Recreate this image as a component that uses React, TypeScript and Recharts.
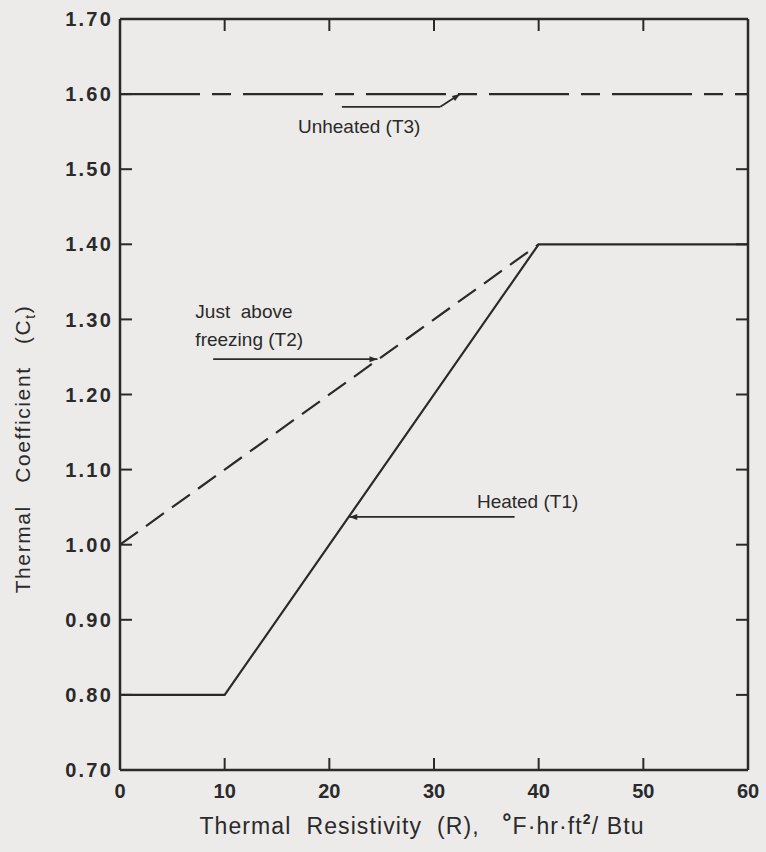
import React from 'react';
import { LineChart, Line, XAxis, YAxis, ReferenceLine, ReferenceDot } from 'recharts';

// ---- data ----
const xTicks = [0, 10, 20, 30, 40, 50, 60];
const yTicks = [0.7, 0.8, 0.9, 1.0, 1.1, 1.2, 1.3, 1.4, 1.5, 1.6, 1.7];

const heatedT1 = [
  { r: 0, c: 0.8 },
  { r: 10, c: 0.8 },
  { r: 40, c: 1.4 },
  { r: 60, c: 1.4 },
];
const aboveFreezingT2 = [
  { r: 0, c: 1.0 },
  { r: 40, c: 1.4 },
];
const unheatedT3 = [
  { r: 0, c: 1.6 },
  { r: 60, c: 1.6 },
];

// annotation leaders (data coords)
const leaders = [
  { from: { x: 21.2, y: 1.583 }, to: { x: 30.6, y: 1.583 }, arrow: false },
  { from: { x: 30.6, y: 1.583 }, to: { x: 32.5, y: 1.6 }, arrow: true },
  { from: { x: 8.9, y: 1.247 }, to: { x: 24.6, y: 1.247 }, arrow: true },
  { from: { x: 37.7, y: 1.037 }, to: { x: 21.9, y: 1.037 }, arrow: true },
];
const labels = [
  { x: 17.0, y: 1.548, text: 'Unheated (T3)' },
  { x: 7.2, y: 1.302, text: 'Just  above' },
  { x: 7.2, y: 1.265, text: 'freezing (T2)' },
  { x: 34.1, y: 1.049, text: 'Heated (T1)' },
];

const INK = '#2a2a2a';
const FONT = '"Liberation Sans", Arial, Helvetica, sans-serif';

const leaderShape = (arrow: boolean) => (p: any) => {
  const { x1, y1, x2, y2 } = p;
  const dx = x2 - x1;
  const dy = y2 - y1;
  const len = Math.sqrt(dx * dx + dy * dy) || 1;
  const ux = dx / len;
  const uy = dy / len;
  const L = 8;
  const W = 3;
  const bx = x2 - ux * L;
  const by = y2 - uy * L;
  const pts = `${x2},${y2} ${bx - uy * W},${by + ux * W} ${bx + uy * W},${by - ux * W}`;
  return (
    <g>
      <line x1={x1} y1={y1} x2={x2} y2={y2} stroke={INK} strokeWidth={1.8} />
      {arrow && <polygon points={pts} fill={INK} />}
    </g>
  );
};

const textShape = (text: string) => (p: any) => (
  <text x={p.cx} y={p.cy} fill={INK} fontFamily={FONT} fontSize={19} style={{ whiteSpace: 'pre' }}>
    {text}
  </text>
);

const XTitle = () => (
  <text
    x={422}
    y={834}
    textAnchor="middle"
    fill={INK}
    fontFamily={FONT}
    fontSize={23}
    letterSpacing={1.1}
    style={{ whiteSpace: 'pre' }}
  >
    <tspan>{'Thermal  Resistivity  (R),   '}</tspan>
    <tspan fontWeight="bold" dy={-4}>°</tspan>
    <tspan dy={4}>{'F·hr·ft'}</tspan>
    <tspan fontWeight="bold" fontSize={14} dy={-10}>2</tspan>
    <tspan dy={10}>{'/ Btu'}</tspan>
  </text>
);

const YTitle = () => (
  <text
    x={0}
    y={0}
    transform="translate(30, 449) rotate(-90)"
    textAnchor="middle"
    fill={INK}
    fontFamily={FONT}
    fontSize={21}
    letterSpacing={1.6}
    style={{ whiteSpace: 'pre' }}
  >
    <tspan>{'Thermal   Coefficient   (C'}</tspan>
    <tspan fontSize={14} dy={5}>t</tspan>
    <tspan dy={-5}>)</tspan>
  </text>
);

const tickStyle = { fill: INK, fontFamily: FONT, fontSize: 20, fontWeight: 'bold' as const };
const emptyTick = () => <g />;

export default function App() {
  return (
    <div style={{ position: 'absolute', left: 0, top: 0, width: 766, height: 852, background: '#ecebe9' }}>
      <LineChart width={766} height={852} margin={{ top: 18, right: 17, bottom: 0, left: 0 }}>
        <XAxis
          xAxisId="b"
          type="number"
          dataKey="r"
          domain={[0, 60]}
          ticks={xTicks}
          height={82}
          allowDataOverflow
          stroke={INK}
          strokeWidth={2.5}
          tickSize={-12}
          tickMargin={26}
          tick={tickStyle}
          tickLine={{ stroke: INK, strokeWidth: 2 }}
          label={{ content: () => <XTitle /> }}
        />
        <XAxis
          xAxisId="t"
          orientation="top"
          type="number"
          dataKey="r"
          domain={[0, 60]}
          ticks={xTicks}
          height={1}
          allowDataOverflow
          stroke={INK}
          strokeWidth={2.5}
          tickSize={-12}
          tick={emptyTick}
          tickLine={{ stroke: INK, strokeWidth: 2 }}
        />
        <YAxis
          yAxisId="l"
          type="number"
          domain={[0.7, 1.7]}
          ticks={yTicks}
          width={120}
          allowDataOverflow
          stroke={INK}
          strokeWidth={2.5}
          tickSize={-12}
          tickMargin={19}
          tick={{ ...tickStyle, letterSpacing: 2.2 }}
          tickFormatter={(v: number) => v.toFixed(2)}
          tickLine={{ stroke: INK, strokeWidth: 2 }}
          label={{ content: () => <YTitle /> }}
        />
        <YAxis
          yAxisId="r"
          orientation="right"
          type="number"
          domain={[0.7, 1.7]}
          ticks={yTicks}
          width={1}
          allowDataOverflow
          stroke={INK}
          strokeWidth={2.5}
          tickSize={-12}
          tick={emptyTick}
          tickLine={{ stroke: INK, strokeWidth: 2 }}
        />
        <Line
          xAxisId="b"
          yAxisId="l"
          data={unheatedT3}
          dataKey="c"
          type="linear"
          stroke={INK}
          strokeWidth={2.2}
          strokeDasharray="80 12 19 12"
          dot={false}
          isAnimationActive={false}
        />
        <Line
          xAxisId="b"
          yAxisId="l"
          data={aboveFreezingT2}
          dataKey="c"
          type="linear"
          stroke={INK}
          strokeWidth={2.2}
          strokeDasharray="22 10"
          dot={false}
          isAnimationActive={false}
        />
        <Line
          xAxisId="b"
          yAxisId="l"
          data={heatedT1}
          dataKey="c"
          type="linear"
          stroke={INK}
          strokeWidth={2.2}
          dot={false}
          isAnimationActive={false}
        />
        {leaders.map((l, i) => (
          <ReferenceLine
            key={'ld' + i}
            xAxisId="b"
            yAxisId="l"
            segment={[l.from, l.to]}
            shape={leaderShape(l.arrow)}
          />
        ))}
        {labels.map((t, i) => (
          <ReferenceDot
            key={'lb' + i}
            xAxisId="b"
            yAxisId="l"
            x={t.x}
            y={t.y}
            r={1}
            shape={textShape(t.text)}
          />
        ))}
      </LineChart>
    </div>
  );
}
